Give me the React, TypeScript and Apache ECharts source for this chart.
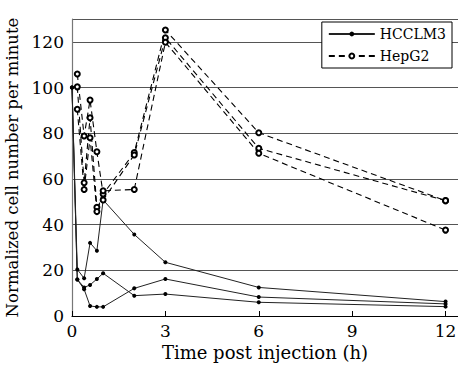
import React, { useEffect, useRef } from "react";
import * as echarts from "echarts";

const xTicks = [0, 3, 6, 9, 12];
const yTicks = [0, 20, 40, 60, 80, 100, 120];

const hcclm3A: [number, number][] = [[0, 100], [0.17, 20.4], [0.39, 16.5], [0.58, 32], [0.8, 28.6], [1.0, 50.8], [2, 35.7], [3, 23.5], [6, 12.5], [12, 6.3]];
const hcclm3B: [number, number][] = [[0, 100], [0.17, 16], [0.39, 12.5], [0.58, 13.6], [0.8, 16.2], [1.0, 18.7], [2, 8.9], [3, 9.6], [6, 6.0], [12, 4.1]];
const hcclm3C: [number, number][] = [[0, 100], [0.17, 16], [0.39, 11.7], [0.58, 4.4], [0.8, 4.0], [1.0, 4.0], [2, 12.1], [3, 16.2], [6, 8.3], [12, 5.3]];

const hepg2A: [number, number][] = [[0.17, 105.9], [0.39, 78.8], [0.58, 94.5], [0.8, 71.9], [1.0, 53.4], [2, 71.5], [3, 125.2], [6, 80.2], [12, 50.5]];
const hepg2B: [number, number][] = [[0.17, 100.3], [0.39, 58.3], [0.58, 86.8], [0.8, 47.6], [1.0, 50.8], [2, 70.5], [3, 121.8], [6, 73.4], [12, 50.5]];
const hepg2C: [number, number][] = [[0.17, 90.5], [0.39, 55.4], [0.58, 78.0], [0.8, 45.7], [1.0, 54.8], [2, 55.4], [3, 119.8], [6, 71.2], [12, 37.6]];

const FONT = "DejaVu Serif";

export default function App() {
  const ref = useRef<HTMLDivElement>(null);
  useEffect(() => {
    if (!ref.current) return;
    const chart = echarts.init(ref.current, null, { renderer: "svg" });
    const solid = (data: [number, number][]) => ({
      name: "HCCLM3",
      type: "line",
      data,
      symbol: "circle",
      symbolSize: 4,
      lineStyle: { color: "#222", width: 1 },
      itemStyle: { color: "#000" },
      z: 3,
    });
    const dashed = (data: [number, number][]) => ({
      name: "HepG2",
      type: "line",
      data,
      symbol: "emptyCircle",
      symbolSize: 5,
      lineStyle: { color: "#000", width: 1.1, type: [6, 4] },
      itemStyle: { color: "#000", borderWidth: 0.7 },
      z: 4,
    });
    chart.setOption({
      animation: false,
      backgroundColor: "#fff",
      textStyle: { fontFamily: FONT },
      grid: { left: 72, right: 0, top: 19, bottom: 50, outerBoundsMode: "none", containLabel: false },
      legend: {
        data: ["HCCLM3", "HepG2"],
        orient: "vertical",
        right: 6,
        top: 22,
        itemWidth: 46,
        itemHeight: 6,
        itemGap: 8,
        padding: [5, 6, 5, 6],
        borderColor: "#000",
        borderWidth: 1,
        backgroundColor: "#fff",
        textStyle: { fontFamily: FONT, fontSize: 14, color: "#000" },
      },
      xAxis: {
        type: "value",
        min: 0,
        max: 12.4,
        interval: 3,
        name: "Time post injection (h)",
        nameLocation: "middle",
        nameGap: 24,
        nameTextStyle: { fontFamily: FONT, fontSize: 18, color: "#000" },
        axisLine: { lineStyle: { color: "#000", width: 1.2 } },
        axisTick: { inside: true, length: 5, lineStyle: { color: "#000" } },
        axisLabel: {
          fontFamily: FONT,
          fontSize: 17,
          color: "#000",
          margin: 6,
          formatter: (v: number) => (xTicks.includes(v) ? String(v) : ""),
        },
        splitLine: { show: false },
      },
      yAxis: {
        type: "value",
        min: 0,
        max: 130,
        interval: 20,
        name: "Normalized cell number per minute",
        nameLocation: "middle",
        nameGap: 42,
        nameTextStyle: { fontFamily: FONT, fontSize: 16.5, color: "#000" },
        axisLine: { show: true, lineStyle: { color: "#777", width: 1.2 } },
        axisTick: { show: false },
        axisLabel: {
          fontFamily: FONT,
          fontSize: 17,
          color: "#000",
          margin: 8,
          formatter: (v: number) => (yTicks.includes(v) ? String(v) : ""),
        },
        splitLine: { show: true, lineStyle: { color: "#555", width: 1.2 } },
      },
      series: [
        solid(hcclm3A),
        solid(hcclm3B),
        solid(hcclm3C),
        dashed(hepg2A),
        dashed(hepg2B),
        dashed(hepg2C),
      ],
    });
    return () => chart.dispose();
  }, []);
  return <div ref={ref} style={{ width: 458, height: 366, position: "absolute", left: 0, top: 0 }} />;
}
